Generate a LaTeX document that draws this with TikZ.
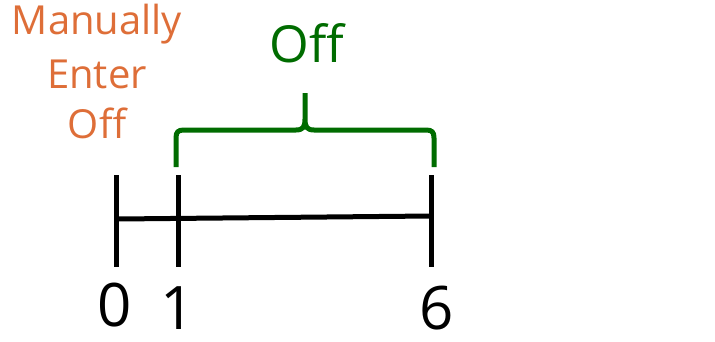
\documentclass[tikz,border=0pt]{standalone}
\usepackage{fontspec}
\setmainfont{Open Sans}
\definecolor{orng}{RGB}{222,110,56}
\definecolor{grn}{RGB}{0,108,0}
\begin{document}
\begin{tikzpicture}[x=1pt,y=1pt,
  tick/.style={line width=5pt},
  axis/.style={line width=5pt},
  brace/.style={line width=5pt,draw=grn,line join=round},
  lbl/.style={inner sep=0pt,anchor=base,font=\fontsize{60}{60}\selectfont},
  ann/.style={inner sep=0pt,align=center,text=orng,font=\fontsize{40}{52}\selectfont}]
\useasboundingbox (0,0) rectangle (715,341);
% ticks
\coordinate (t0a) at (116,166); \coordinate (t0b) at (116,74);
\coordinate (t1a) at (178,166); \coordinate (t1b) at (178,74);
\coordinate (t6a) at (431,166); \coordinate (t6b) at (431,74);
\coordinate (ax0) at (118,122); \coordinate (ax6) at (431,125);
\draw[tick] (t0a) -- (t0b);
\draw[tick] (t1a) -- (t1b);
\draw[tick] (t6a) -- (t6b);
\draw[axis] (ax0) -- (ax6);
% labels
\node[lbl] (l0) at (115,15) {0};
\node[lbl] (l1) at (178,12) {1};
\node[lbl] (l6) at (437,12) {6};
% brace
\draw[brace] (176,174) -- (176,203) .. controls (176,209) and (178,211) .. (184,211)
  -- (296,211) .. controls (303,211) and (305,214) .. (305,222) -- (305,248)
  (305,222) .. controls (305,214) and (307,211) .. (314,211)
  -- (426,211) .. controls (432,211) and (434,209) .. (434,203) -- (434,174);
\node[inner sep=0pt,anchor=base,text=grn,font=\fontsize{51}{60}\selectfont] (off) at (307,279) {Off};
% annotation
\node[ann,anchor=base] (man) at (97,306) {Manually};
\node[ann,anchor=base] (ent) at (97,253) {Enter};
\node[ann,anchor=base] (moff) at (97,203) {Off};
\end{tikzpicture}
\end{document}
